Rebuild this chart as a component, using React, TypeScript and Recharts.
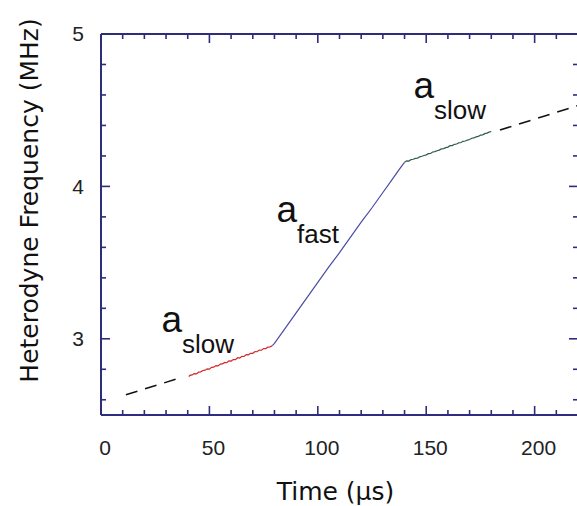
import React from 'react';
import { LineChart, Line, XAxis, YAxis, ReferenceDot, ReferenceLine, Label } from 'recharts';

// time axis (µs) and frequency axis (MHz) ticks
const xTicks = [0, 10, 20, 30, 40, 50, 60, 70, 80, 90, 100, 110, 120, 130, 140, 150, 160, 170, 180, 190, 200, 210, 220];
const yTicks = [2.6, 2.8, 3, 3.2, 3.4, 3.6, 3.8, 4, 4.2, 4.4, 4.6, 4.8, 5];

// dashed slow-rate fit, before and after the measured record
const fitLow = [
  { t: 11.5, f: 2.633 },
  { t: 37.5, f: 2.748 },
];
const fitHigh = [
  { t: 184, f: 4.37 },
  { t: 221, f: 4.535 },
];

// first slow segment (red)
const slowRedT = [40.5, 41, 42, 43, 44, 45, 46, 47, 48, 49, 50, 51, 52, 53, 54, 55, 56, 57, 58, 59, 60, 61, 62, 63, 64, 65, 66, 67, 68, 69, 70, 71, 72, 73, 74, 75, 76, 77, 78, 79];
const slowRedF = [2.752, 2.760, 2.763, 2.772, 2.770, 2.781, 2.783, 2.792, 2.794, 2.803, 2.801, 2.813, 2.814, 2.824, 2.822, 2.834, 2.835, 2.845, 2.843, 2.855, 2.854, 2.864, 2.863, 2.876, 2.874, 2.885, 2.884, 2.896, 2.895, 2.905, 2.905, 2.916, 2.915, 2.926, 2.925, 2.936, 2.936, 2.946, 2.947, 2.955];

// fast segment (blue)
const fastT = [79, 80, 85, 90, 95, 100, 105, 110, 115, 120, 125, 130, 134, 137, 139, 140];
const fastF = [2.955, 2.97, 3.07, 3.17, 3.27, 3.37, 3.47, 3.565, 3.665, 3.765, 3.86, 3.96, 4.04, 4.10, 4.14, 4.158];

// second slow segment (green)
const slowGreenT = [140, 141, 142, 143, 144, 145, 146, 147, 148, 149, 150, 151, 152, 153, 154, 155, 156, 157, 158, 159, 160, 161, 162, 163, 164, 165, 166, 167, 168, 169, 170, 171, 172, 173, 174, 175, 176, 177, 178, 179, 180];
const slowGreenF = [4.158, 4.168, 4.166, 4.176, 4.178, 4.184, 4.186, 4.194, 4.198, 4.203, 4.207, 4.215, 4.216, 4.226, 4.228, 4.234, 4.238, 4.246, 4.248, 4.254, 4.258, 4.267, 4.268, 4.276, 4.278, 4.286, 4.288, 4.296, 4.298, 4.304, 4.308, 4.316, 4.318, 4.325, 4.328, 4.336, 4.338, 4.346, 4.35, 4.356, 4.36];

// annotation anchors (data coords of the "a" baseline)
const notes = [
  { t: 27.9, f: 3.045, sub: 'slow' },
  { t: 80.9, f: 3.766, sub: 'fast' },
  { t: 144.1, f: 4.58, sub: 'slow' },
];

const zip = (ts: number[], fs: number[]) => ts.map((t, i) => ({ t, f: fs[i] }));
const redData = zip(slowRedT, slowRedF);
const blueData = zip(fastT, fastF);
const greenData = zip(slowGreenT, slowGreenF);

const NAVY = '#2e2c7c';
const TICK_FONT = '"Liberation Sans", Arial, sans-serif';
const TITLE_FONT = '"DejaVu Sans", sans-serif';

const W = 578;
const H = 506;
const M = { top: 34, right: 0, bottom: 0, left: 0 };
const Y_AXIS_W = 101;
const X_AXIS_H = 91;
const PLOT_W = W - M.left - M.right - Y_AXIS_W;
const PLOT_H = H - M.top - M.bottom - X_AXIS_H;

// bottom axis tick: inward tick on the bottom plus the matching one on the top frame
const XTick = (props: any) => {
  const { x, y, payload } = props;
  const v = payload.value;
  const major = v % 50 === 0;
  const len = major ? 9 : 5;
  const top = y - PLOT_H;
  return (
    <g>
      <line x1={x} x2={x} y1={y} y2={y - len} stroke={NAVY} strokeWidth={1.6} />
      <line x1={x} x2={x} y1={top} y2={top + len} stroke={NAVY} strokeWidth={1.6} />
      {major && (
        <text x={x + 4} y={y + 40} textAnchor="middle" fontSize={21} fontFamily={TICK_FONT} fill="#222">
          {v}
        </text>
      )}
    </g>
  );
};

// left axis tick: inward tick on the left plus the matching one on the right frame
const YTick = (props: any) => {
  const { x, y, payload } = props;
  const v = payload.value;
  const major = Math.abs(v - Math.round(v)) < 1e-6;
  const len = major ? 9 : 5;
  const right = x + PLOT_W;
  return (
    <g>
      <line x1={x} x2={x + len} y1={y} y2={y} stroke={NAVY} strokeWidth={1.6} />
      <line x1={right} x2={right - len} y1={y} y2={y} stroke={NAVY} strokeWidth={1.6} />
      {major && (
        <text x={x - 17} y={y} dy="0.355em" textAnchor="end" fontSize={21} fontFamily={TICK_FONT} fill="#222">
          {Math.round(v)}
        </text>
      )}
    </g>
  );
};

const YTitle = (props: any) => {
  const vb = props.viewBox || { x: 0, y: M.top, width: Y_AXIS_W, height: PLOT_H };
  const cx = vb.x + 29;
  const cy = vb.y + vb.height / 2 - 24;
  return (
    <text
      x={cx}
      y={cy}
      dy="0.36em"
      textAnchor="middle"
      transform={`rotate(-90, ${cx}, ${cy})`}
      fontSize={25}
      fontFamily={TITLE_FONT}
      fill="#111"
    >
      Heterodyne Frequency (MHz)
    </text>
  );
};

const Note = (sub: string) => (props: any) => (
  <text x={props.cx} y={props.cy} fontFamily={TICK_FONT} fill="#111">
    <tspan fontSize={37}>a</tspan>
    <tspan fontSize={26} dy={21}>
      {sub}
    </tspan>
  </text>
);

export default function App() {
  return (
    <div style={{ position: 'absolute', left: 0, top: 0, width: 577, height: 506, overflow: 'hidden', background: '#fff' }}>
      <LineChart width={W} height={H} margin={M}>
        <XAxis
          xAxisId="x"
          type="number"
          dataKey="t"
          domain={[0, 220]}
          allowDataOverflow
          ticks={xTicks}
          interval={0}
          height={X_AXIS_H}
          tickSize={0}
          tickMargin={0}
          tickLine={false}
          tick={<XTick />}
          axisLine={{ stroke: NAVY, strokeWidth: 2 }}
        >
          <Label value="Time (μs)" position="insideBottom" offset={6} dx={-4} fontSize={25} fontFamily={TITLE_FONT} fill="#111" />
        </XAxis>
        <YAxis
          yAxisId="y"
          type="number"
          domain={[2.5, 5]}
          allowDataOverflow
          ticks={yTicks}
          interval={0}
          width={Y_AXIS_W}
          tickSize={0}
          tickMargin={0}
          tickLine={false}
          tick={<YTick />}
          axisLine={{ stroke: NAVY, strokeWidth: 2 }}
        >
          <Label content={<YTitle />} />
        </YAxis>

        {/* top and right frame */}
        <ReferenceLine xAxisId="x" yAxisId="y" y={5} stroke={NAVY} strokeWidth={2} />
        <ReferenceLine xAxisId="x" yAxisId="y" x={220} stroke={NAVY} strokeWidth={2} />

        <Line xAxisId="x" yAxisId="y" data={fitLow} dataKey="f" stroke="#111" strokeWidth={1.5} strokeDasharray="12 8" dot={false} isAnimationActive={false} />
        <Line xAxisId="x" yAxisId="y" data={fitHigh} dataKey="f" stroke="#111" strokeWidth={1.5} strokeDasharray="12 8" dot={false} isAnimationActive={false} />
        <Line xAxisId="x" yAxisId="y" data={redData} dataKey="f" stroke="#d02828" strokeWidth={1.2} dot={false} isAnimationActive={false} />
        <Line xAxisId="x" yAxisId="y" data={blueData} dataKey="f" stroke="#4a4aa6" strokeWidth={1.2} dot={false} isAnimationActive={false} />
        <Line xAxisId="x" yAxisId="y" data={greenData} dataKey="f" stroke="#2d5a4c" strokeWidth={1.2} dot={false} isAnimationActive={false} />

        {notes.map((n, i) => (
          <ReferenceDot key={i} xAxisId="x" yAxisId="y" x={n.t} y={n.f} r={0} shape={Note(n.sub)} />
        ))}
      </LineChart>
    </div>
  );
}
